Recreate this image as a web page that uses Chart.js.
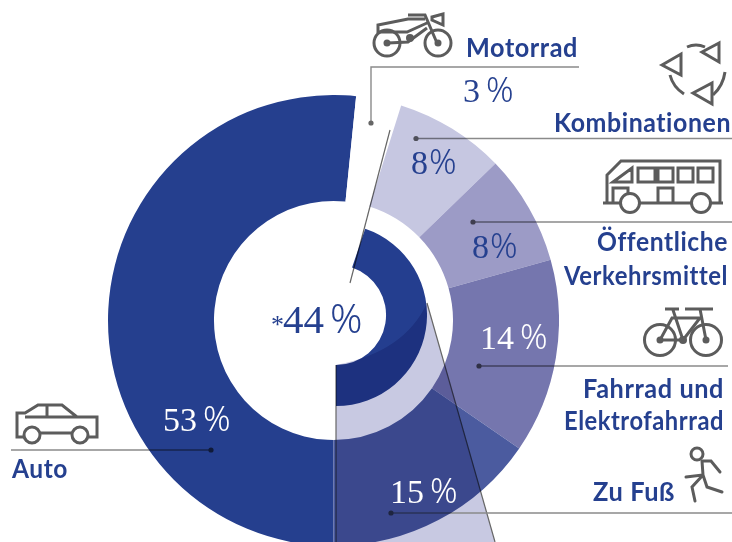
<!DOCTYPE html>
<html lang="de">
<head>
  <meta charset="UTF-8">
  <title>Modal Split</title>
  <script src="https://cdn.jsdelivr.net/npm/chart.js"></script>
  <style>
    html, body { margin:0; padding:0; background:#fff; }
    #stage { position:relative; width:732px; height:542px; overflow:hidden; }
    #stage canvas { position:absolute; }
    #outerChart { left:108px; top:94.5px; }
    #innerChart { left:245px; top:223.5px; }
    #overlay { left:0; top:0; mix-blend-mode:multiply; }
    #top { left:0; top:0; }
  </style>
</head>
<body>
  <div id="stage">
    <canvas id="outerChart" width="451" height="451"></canvas>
    <canvas id="innerChart" width="182" height="182"></canvas>
    <canvas id="overlay" width="732" height="542"></canvas>
    <canvas id="top" width="732" height="542"></canvas>
  </div>
  <script>
    // Modes, clockwise from the bottom of the ring
    const modes = ['Auto', 'Motorrad', 'Kombinationen', 'Öffentliche Verkehrsmittel', 'Fahrrad und Elektrofahrrad', 'Zu Fuß'];
    // Printed shares (they add up to 101 because of rounding)
    const printedShares = [53, 3, 8, 8, 14, 15];
    // Slice sizes as measured on the picture, in percent of the circle
    const sliceShares = [51.6, 3.25, 7.9, 7.9, 13.95, 15.4];
    const sliceColors = ['#253f8e', '#ffffff', '#c6c7e1', '#9c9bc6', '#7576ae', '#4b5b9f'];
    // Inner ring: starred share of the car, printed and as measured
    const innerLabels = ['*', 'Rest'];
    const printedInner = 44;
    const innerShares = [44.8, 55.2];

    const ringOptions = {
      responsive: false,
      animation: false,
      layout: { padding: 0 },
      plugins: { legend: { display: false }, tooltip: { enabled: false } }
    };

    new Chart(document.getElementById('outerChart'), {
      type: 'doughnut',
      data: {
        labels: modes,
        datasets: [{ data: sliceShares, backgroundColor: sliceColors, borderWidth: 0 }]
      },
      options: { ...ringOptions, rotation: 180, cutout: '53%' }
    });

    new Chart(document.getElementById('innerChart'), {
      type: 'doughnut',
      data: {
        labels: innerLabels,
        datasets: [{ data: innerShares, backgroundColor: ['#243e8f', 'rgba(0,0,0,0)'], borderWidth: 0 }]
      },
      options: { ...ringOptions, rotation: 180 - innerShares[0] * 3.6, cutout: '55%' }
    });

    // Multiply layer: the wedge and the leader lines
    const ov = document.getElementById('overlay').getContext('2d');
    ov.fillStyle = '#c8c9e2';
    ov.beginPath();
    ov.moveTo(336, 365);
    ov.quadraticCurveTo(404.5, 352, 427, 303);
    ov.lineTo(495, 542);
    ov.lineTo(336, 542);
    ov.closePath();
    ov.fill();

    ov.strokeStyle = '#666';
    ov.lineWidth = 1.2;
    [[336, 365, 336, 542], [427, 303, 495, 542], [350, 283, 390, 130]].forEach(l => {
      ov.beginPath(); ov.moveTo(l[0], l[1]); ov.lineTo(l[2], l[3]); ov.stroke();
    });

    const leaders = [
      [[371, 123], [371, 67], [579, 67]],
      [[416, 138.5], [732, 138.5]],
      [[473, 222], [732, 222]],
      [[479, 366], [728, 366]],
      [[391, 513], [732, 513]],
      [[211, 450], [11, 450]]
    ];
    ov.strokeStyle = '#8a8a8a';
    ov.fillStyle = '#666';
    ov.lineWidth = 1.4;
    leaders.forEach(pts => {
      ov.beginPath();
      pts.forEach((p, i) => i ? ov.lineTo(p[0], p[1]) : ov.moveTo(p[0], p[1]));
      ov.stroke();
      ov.beginPath();
      ov.arc(pts[0][0], pts[0][1], 2.6, 0, Math.PI * 2);
      ov.fill();
    });

    // Top layer: icons and text
    const c = document.getElementById('top').getContext('2d');
    const gray = '#5c5c5c';
    const blue = '#25408f';

    c.strokeStyle = gray;
    c.lineWidth = 3;
    c.lineJoin = 'miter';
    const icon = d => c.stroke(new Path2D(d));
    const wheel = (x, y, r, hub) => {
      c.beginPath(); c.arc(x, y, r, 0, Math.PI * 2); c.stroke();
      if (hub) { c.fillStyle = gray; c.beginPath(); c.arc(x, y, hub, 0, Math.PI * 2); c.fill(); }
    };

    // motorbike
    wheel(387, 43, 13, 3.5);
    wheel(438, 43, 13, 3.5);
    icon('M378 33 V25 L408 19 H425 M378 32 H407 L427 23 M388 43 L408 42 L427 28 M408 15 H425 L437 43 M432 17 L443 14 V25 L432 20 Z');
    c.fillStyle = gray; c.beginPath(); c.arc(410, 38, 4, 0, Math.PI * 2); c.fill();

    // recycling arrows
    icon('M719 43 L702 52 L719 62 Z M662 65 L681 54 L681 75 Z M693 93 L712 83 L712 104 Z');
    icon('M687 47 Q696 43 705 47 M670 75 Q673 87 684 94 M725 72 Q723 86 713 95');

    // bus
    icon('M603 203 H723 M607 203 V175 L621 161 H720 V203');
    icon('M613 182 L632 168 V182 Z M638 168 H655 V182 H638 Z M658 168 H673 V182 H658 Z M678 168 H693 V182 H678 Z M698 168 H713 V182 H698 Z');
    icon('M613 203 V188 H628 V197 M658 203 V188 H673 V203');
    c.fillStyle = '#fff';
    [[630, 203], [701, 203]].forEach(w => {
      c.beginPath(); c.arc(w[0], w[1], 9.5, 0, Math.PI * 2); c.fill(); c.stroke();
    });

    // bicycle
    wheel(660, 340, 15.5, 3.5);
    wheel(706, 340, 15.5, 3.5);
    icon('M665 309 H679 M685 309 H713 M673 310 L683 340 H660 L672 318 H700 L683 340 M700 309 L706 340');
    c.fillStyle = gray; c.beginPath(); c.arc(683, 340, 4, 0, Math.PI * 2); c.fill();

    // runner
    wheel(697, 454, 6, 0);
    c.lineCap = 'round';
    icon('M702 461 H711 L720 472 M702 461 L703 475 L686 477 M703 475 L707 487 L722 492 M703 475 L692 487 L695 501');
    c.lineCap = 'butt';

    // car
    wheel(32, 435, 8, 0);
    wheel(80, 435, 8, 0);
    icon('M24 437 H17 V413 H25 L38 405 H62 L77 417 H97 V437 H89 M40 433 H72 M25 417 H77 M47 405 V417');

    // Labels, baseline positioned, last entry is the width on the reference
    const labels = [
      ['Motorrad', 466, 57, 'left', 112],
      ['Kombinationen', 731, 132, 'right', 177],
      ['Öffentliche', 728, 251, 'right', 131],
      ['Verkehrsmittel', 728, 285, 'right', 164],
      ['Fahrrad und', 724, 398, 'right', 141],
      ['Elektrofahrrad', 724, 430, 'right', 160],
      ['Zu Fuß', 675, 501, 'right', 82],
      ['Auto', 12, 478, 'left', 56]
    ];
    c.fillStyle = blue;
    c.font = '700 26px Lato';
    c.letterSpacing = '0.6px';
    labels.forEach(l => {
      c.textAlign = l[3];
      c.fillText(l[0], l[1], l[2], l[4]);
    });
    c.letterSpacing = '0px';

    // Percent figures
    const figurePos = [
      [163, 431, '#fff'],
      [463, 102, blue],
      [411, 174, blue],
      [472, 258, blue],
      [480, 349, '#fff'],
      [390, 503, '#fff']
    ];
    const percent = (text, x, y, color, size, pctSize, gap) => {
      c.textAlign = 'left';
      c.fillStyle = color;
      c.font = size + 'px "Liberation Serif"';
      c.fillText(text, x, y);
      const w = c.measureText(text).width;
      c.font = '300 ' + pctSize + 'px "Noto Sans"';
      c.fillText('%', x + w + gap, y);
    };
    printedShares.forEach((v, i) => {
      percent(String(v), figurePos[i][0], figurePos[i][1], figurePos[i][2], 34, 34, (v === 8) ? 1 : 6);
    });
    c.fillStyle = blue;
    c.font = '26px "Liberation Serif"';
    c.textAlign = 'left';
    c.fillText('*', 271, 333);
    percent(String(printedInner), 283, 333, blue, 41, 40, 6);
  </script>
</body>
</html>
